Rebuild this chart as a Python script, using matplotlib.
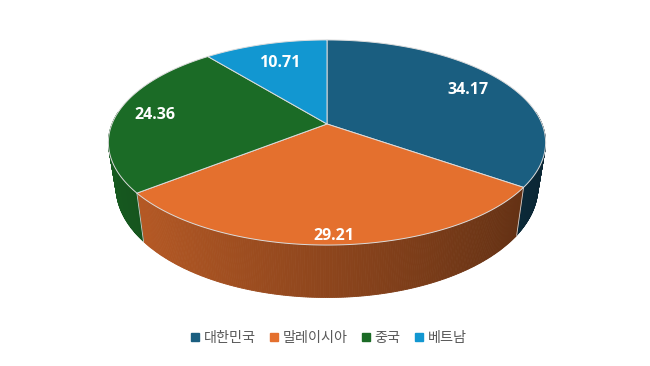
import numpy as np
import matplotlib
matplotlib.use("Agg")
import matplotlib.pyplot as plt
from matplotlib.patches import Polygon
from matplotlib.lines import Line2D

categories = ["대한민국", "말레이시아", "중국", "베트남"]
values = [34.17, 29.21, 24.36, 10.71]
labels = ["34.17", "29.21", "24.36", "10.71"]
colors = ["#1A5E80", "#E4702E", "#1B6B26", "#1297D1"]
label_r = [0.79, 0.94, 0.82, 0.73]

W, H = 650, 366
fig = plt.figure(figsize=(6.5, 3.66), dpi=100)
ax = fig.add_axes([0, 0, 1, 1])
ax.set_xlim(0, W)
ax.set_ylim(H, 0)
ax.axis("off")

cx, cy = 327, 124
A, B, K, D = 215, 99.2, 0.1805, 43
BOT_SCALE = 0.965


def proj(theta_deg, r=1.0, z=0.0):
    t = np.radians(theta_deg)
    u = r * np.sin(t)
    v = r * np.cos(t)
    s = 1 + K * v
    sc = 1 - (1 - BOT_SCALE) * z
    x = cx + A * u * sc / s
    y = cy - B * v / s + D * z / s
    return x, y


def to_rgb(c):
    return np.array(matplotlib.colors.to_rgb(c))


total = sum(values)
bounds = np.concatenate([[0], np.cumsum(values) / total * 360])

# side walls
for i, c in enumerate(colors):
    a0, a1 = bounds[i], bounds[i + 1]
    ths = np.linspace(a0, a1, max(int((a1 - a0) * 2), 2))
    base = to_rgb(c)
    for t0, t1 in zip(ths[:-1], ths[1:]):
        tm = 0.5 * (t0 + t1)
        if np.cos(np.radians(tm)) > 0.12:
            continue
        u = np.sin(np.radians(tm))
        f = 0.62 - 0.22 * u
        col = np.clip(base * f, 0, 1)
        p = [proj(t0), proj(t1), proj(t1, z=1), proj(t0, z=1)]
        ax.add_patch(Polygon(p, closed=True, facecolor=col, edgecolor=col,
                             linewidth=0.6, zorder=1))
    a = a0
    if np.cos(np.radians(a)) < 0:
        x0, y0 = proj(a)
        x1, y1 = proj(a, z=1)
        ax.plot([x0, x1], [y0, y1], color="#d0d0d0", lw=0.6, zorder=2)

# top surface
for i, c in enumerate(colors):
    a0, a1 = bounds[i], bounds[i + 1]
    ths = np.linspace(a0, a1, 200)
    pts = [proj(0, r=0)] + [proj(t) for t in ths]
    ax.add_patch(Polygon(pts, closed=True, facecolor=c, edgecolor="#dcdcdc",
                         linewidth=0.7, zorder=3, joinstyle="round"))

# labels
for i, lab in enumerate(labels):
    am = 0.5 * (bounds[i] + bounds[i + 1])
    x, y = proj(am, r=label_r[i])
    ax.text(x, y, lab, color="white", fontsize=11.5, fontweight="bold",
            family=["Open Sans", "DejaVu Sans"], ha="center", va="center", zorder=5)

handles = [Line2D([0], [0], marker="s", linestyle="none", markersize=5.5,
                  markerfacecolor=c, markeredgecolor=c) for c in colors]
leg = fig.legend(handles, categories, loc="center", bbox_to_anchor=(0.505, 1 - 338 / H),
                 ncol=4, frameon=False, handletextpad=0.2, columnspacing=0.9,
                 handlelength=0.8,
                 prop={"family": ["Noto Sans CJK KR", "DejaVu Sans"], "size": 10.2,
                       "weight": "medium"})
for t in leg.get_texts():
    t.set_color("#595959")

fig.savefig("out.png", dpi=100, facecolor="white")
